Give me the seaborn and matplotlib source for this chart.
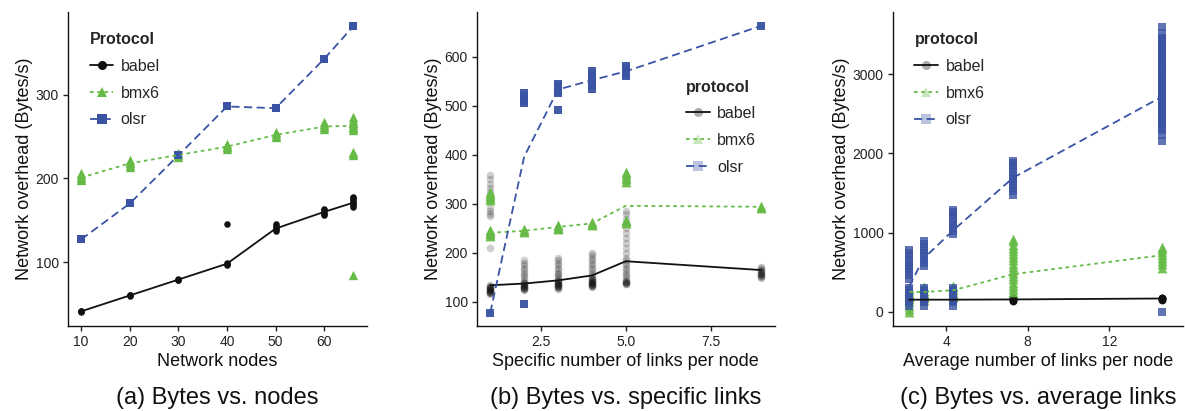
import numpy as np
import pandas as pd
import matplotlib
matplotlib.use("Agg")
import matplotlib.pyplot as plt
from matplotlib.lines import Line2D
import seaborn as sns

# ---------------- data ----------------
protocols = ["babel", "bmx6", "olsr"]

# (a) Bytes vs. nodes
a_x = [10, 20, 30, 40, 50, 60, 66]
a_babel_line = [41, 60, 79, 98, 140, 160, 171]
a_bmx6_line = [201, 218, 228, 238, 252, 262, 263]
a_olsr_line = [127, 170, 227.5, 286, 284, 343, 382]
a_babel_pts = [[40, 41, 42], [59, 60, 61], [78, 79, 80], [97, 98, 99, 145],
               [137, 139, 141, 143, 145], [156, 158, 160, 162, 164],
               [166, 168, 170, 172, 174, 176, 178]]
a_bmx6_pts = [[198, 200, 202, 204, 206], [214, 216, 218, 220, 222], [226, 228, 230],
              [235, 237, 239, 241], [249, 251, 253, 255], [259, 261, 263, 265, 267],
              [85, 228, 230, 232, 258, 260, 262, 264, 266, 268, 270, 273]]
a_olsr_pts = [[127], [170], [227.5], [286], [284], [343], [382]]

# (b) Bytes vs. specific links
b_x = [1, 2, 3, 4, 5, 9]
b_babel_line = [134, 137.5, 144, 154, 183, 165]
b_bmx6_line = [241, 245, 253, 260, 296, 294]
b_olsr_line = [78, 396, 533, 552, 570, 663]
b_babel_pts = [[116, 118, 120, 122, 124, 126, 128, 130, 132, 134, 118, 122, 126, 130,
                120, 124, 128, 210, 275, 280, 285, 292, 310, 318, 325, 333, 340, 350, 358],
               [124, 126, 128, 130, 132, 134, 136, 138, 140, 126, 130, 134, 138,
                128, 132, 145, 150, 155, 160, 165, 170, 175, 180, 185],
               [127, 129, 131, 133, 135, 137, 139, 141, 143, 145, 130, 134, 138, 142,
                132, 136, 148, 152, 156, 160, 165, 170, 175, 180, 185, 190],
               [130, 132, 134, 136, 138, 140, 142, 144, 146, 148, 133, 137, 141, 145,
                135, 139, 150, 155, 160, 165, 170, 175, 180, 185, 190, 195, 200],
               [136, 138, 140, 137, 141, 145, 150, 155, 160, 165, 170, 175, 180, 185,
                138, 142, 190, 200, 210, 220, 230, 240, 250, 260, 270, 280, 285],
               [148, 150, 152, 155, 158, 160, 163, 166, 169, 172, 155, 160, 165]]
b_bmx6_pts = [[235, 238, 241, 244, 247, 308, 312, 316, 320, 324],
              [242, 245, 248], [248, 251, 254, 257], [256, 259, 262],
              [260, 264, 268, 345, 350, 355, 360, 365], [292, 295]]
b_olsr_pts = [[78], [95, 505, 510, 515, 520, 525], [492, 525, 530, 535, 540, 545],
              [535, 542, 550, 557, 565, 570], [560, 565, 570, 575, 580], [663]]

# (c) Bytes vs. average links
c_x = [2.2, 2.9, 4.36, 7.28, 14.57]
c_babel_line = [155, 155, 155, 158, 170]
c_bmx6_line = [255, 252, 274, 476, 716]
c_olsr_line = [324, 674, 1031, 1692, 2715]
c_babel_pts = [[140, 150, 160, 170], [140, 150, 160, 170], [140, 150, 160, 170],
               [140, 150, 160, 170], [150, 160, 170, 180]]
c_bmx6_pts = [[0, 40, 80, 120, 160, 200, 240, 280, 300],
              [150, 190, 230, 270, 310, 320],
              [200, 240, 280, 320, 330],
              [250, 290, 330, 370, 410, 450, 490, 530, 570, 610, 650, 690, 730, 770,
               810, 850, 890, 920],
              [560, 600, 640, 680, 720, 760, 800, 820]]
c_olsr_pts = [[80, 120, 160, 200, 240, 280, 300, 420, 460, 500, 540, 580, 620, 650,
               700, 740, 780],
              [80, 120, 160, 200, 240, 280, 300, 580, 620, 660, 700, 740, 780, 820,
               860, 900],
              [80, 120, 160, 200, 240, 280, 300, 980, 1020, 1060, 1100, 1140, 1180,
               1220, 1260, 1280],
              [1480, 1520, 1560, 1600, 1640, 1680, 1720, 1760, 1800, 1840, 1880, 1900],
              [0, 2150, 2230, 2300, 2340, 2380, 2420, 2460, 2500, 2540, 2580, 2620,
               2660, 2700, 2740, 2780, 2820, 2860, 2900, 2940, 2980, 3020, 3060, 3100,
               3140, 3180, 3220, 3260, 3300, 3340, 3380, 3420, 3450, 3520, 3600,
               2320, 2400, 2480, 2560, 2640, 2720, 2800, 2880, 2960, 3040, 3120, 3200,
               3280, 3360, 3440]]

# ---------------- style ----------------
sns.set_style("ticks")
plt.rcParams["font.family"] = ["Liberation Sans", "DejaVu Sans"]
plt.rcParams["axes.linewidth"] = 1.0

COL = {"babel": "#111111", "bmx6": "#66bb46", "olsr": "#3a53a4"}
LS = {"babel": "-", "bmx6": (0, (2, 2)), "olsr": (0, (4.5, 2.5))}
MK = {"babel": "o", "bmx6": "^", "olsr": "s"}

W, H = 1185, 411
fig = plt.figure(figsize=(W / 100, H / 100), dpi=100)


def box(x0, x1, y0=12, y1=326):
    return [x0 / W, 1 - y1 / H, (x1 - x0) / W, (y1 - y0) / H]


def long_df(xs, groups):
    rx, ry = [], []
    for x, vals in zip(xs, groups):
        rx += [x] * len(vals)
        ry += vals
    return pd.DataFrame({"x": rx, "y": ry})


def draw(ax, xs, lines, pts, sizes, alphas):
    for p in protocols:
        d = long_df(xs, pts[p])
        sns.scatterplot(data=d, x="x", y="y", ax=ax, marker=MK[p], color=COL[p],
                        s=sizes[p], alpha=alphas[p], linewidth=0, legend=False,
                        zorder=2)
    for p in protocols:
        ld = pd.DataFrame({"x": xs, "y": lines[p]})
        sns.lineplot(data=ld, x="x", y="y", ax=ax, color=COL[p], linestyle=LS[p],
                     linewidth=1.3, legend=False, zorder=3)


def style(ax, xlabel, xticks, yticks, xlim, ylim, caption):
    ax.set_xlim(*xlim)
    ax.set_ylim(*ylim)
    ax.set_xticks(xticks)
    ax.set_yticks(yticks)
    ax.set_xlabel(xlabel, fontsize=13, labelpad=3, color="#111111")
    ax.set_ylabel("Network overhead (Bytes/s)", fontsize=13, labelpad=2, color="#111111")
    ax.tick_params(axis="both", labelsize=10, length=3.5, width=1.0,
                   colors="#222222", pad=3)
    for s in ["top", "right"]:
        ax.spines[s].set_visible(False)
    for s in ["left", "bottom"]:
        ax.spines[s].set_color("#111111")
    pos = ax.get_position()
    fig.text(pos.x0 + pos.width / 2, 1 - 398 / H, caption, ha="center", va="center",
             fontsize=17, color="#111111")


def legend(ax, title, anchor, alpha):
    hs = []
    for p in protocols:
        hs.append(Line2D([0], [0], color=COL[p], linestyle=LS[p], linewidth=1.3,
                         marker=MK[p], markersize=6.5, markeredgewidth=0,
                         markerfacecolor=matplotlib.colors.to_rgba(COL[p], alpha)))
    lg = ax.legend(hs, protocols, title=title, loc="upper left", bbox_to_anchor=anchor,
                   frameon=False, fontsize=11.5,
                   title_fontproperties={"weight": "bold", "size": 11.5},
                   handlelength=1.5, handletextpad=0.45, labelspacing=0.75,
                   borderpad=0, borderaxespad=0, alignment="left")
    lg._legend_box.sep = 8
    return lg


# (a)
ax1 = fig.add_axes(box(68, 367))
draw(ax1, a_x,
     {"babel": a_babel_line, "bmx6": a_bmx6_line, "olsr": a_olsr_line},
     {"babel": a_babel_pts, "bmx6": a_bmx6_pts, "olsr": a_olsr_pts},
     {"babel": 22, "bmx6": 45, "olsr": 36},
     {"babel": 1.0, "bmx6": 1.0, "olsr": 1.0})
style(ax1, "Network nodes", [10, 20, 30, 40, 50, 60], [100, 200, 300],
      (7.3, 68.8), (23.5, 399), "(a) Bytes vs. nodes")
legend(ax1, "Protocol", (0.072, 0.935), 1.0)

# (b)
ax2 = fig.add_axes(box(476.7, 775))
draw(ax2, b_x,
     {"babel": b_babel_line, "bmx6": b_bmx6_line, "olsr": b_olsr_line},
     {"babel": b_babel_pts, "bmx6": b_bmx6_pts, "olsr": b_olsr_pts},
     {"babel": 30, "bmx6": 50, "olsr": 34},
     {"babel": 0.2, "bmx6": 0.95, "olsr": 0.95})
style(ax2, "Specific number of links per node", [2.5, 5.0, 7.5],
      [100, 200, 300, 400, 500, 600], (0.6, 9.4), (51, 691),
      "(b) Bytes vs. specific links")
legend(ax2, "protocol", (0.702, 0.785), 0.35)

# (c)
ax3 = fig.add_axes(box(892.7, 1183))
draw(ax3, c_x,
     {"babel": c_babel_line, "bmx6": c_bmx6_line, "olsr": c_olsr_line},
     {"babel": c_babel_pts, "bmx6": c_bmx6_pts, "olsr": c_olsr_pts},
     {"babel": 32, "bmx6": 50, "olsr": 30},
     {"babel": 1.0, "bmx6": 0.9, "olsr": 0.8})
style(ax3, "Average number of links per node", [4, 8, 12], [0, 1000, 2000, 3000],
      (1.39, 15.6), (-177, 3783), "(c) Bytes vs. average links")
legend(ax3, "protocol", (0.075, 0.935), 0.35)

fig.savefig("out.png", dpi=100)
